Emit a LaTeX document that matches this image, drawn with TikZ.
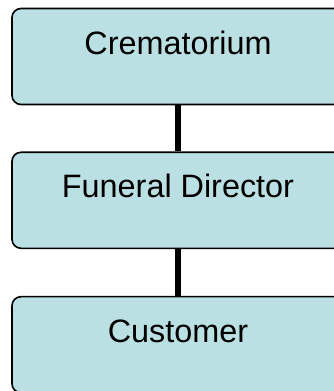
\documentclass[tikz,border=0pt]{standalone}
\usepackage{fontspec}
\setmainfont{Liberation Sans}
\definecolor{boxfill}{RGB}{186,224,227}
\begin{document}
\begin{tikzpicture}[x=1bp,y=1bp,
  orgbox/.style={draw=black, line width=1.6bp, fill=boxfill, rounded corners=9bp,
    rectangle, minimum width=332bp, inner xsep=0pt, inner ysep=0pt,
    text height=45.5bp, text depth=50.5bp, font=\fontsize{32.5}{38}\selectfont},
  link/.style={line width=6bp, black}]
\useasboundingbox (0,0) rectangle (334,391);
\node[orgbox] (crem) at (178,334.5) {Crematorium};
\node[orgbox] (fun) at (178,190.7) {Funeral Director};
\node[orgbox] (cust) at (178,46.3) {Customer};
\draw[link] (crem.south) -- (fun.north);
\draw[link] (fun.south) -- (cust.north);
\end{tikzpicture}
\end{document}
